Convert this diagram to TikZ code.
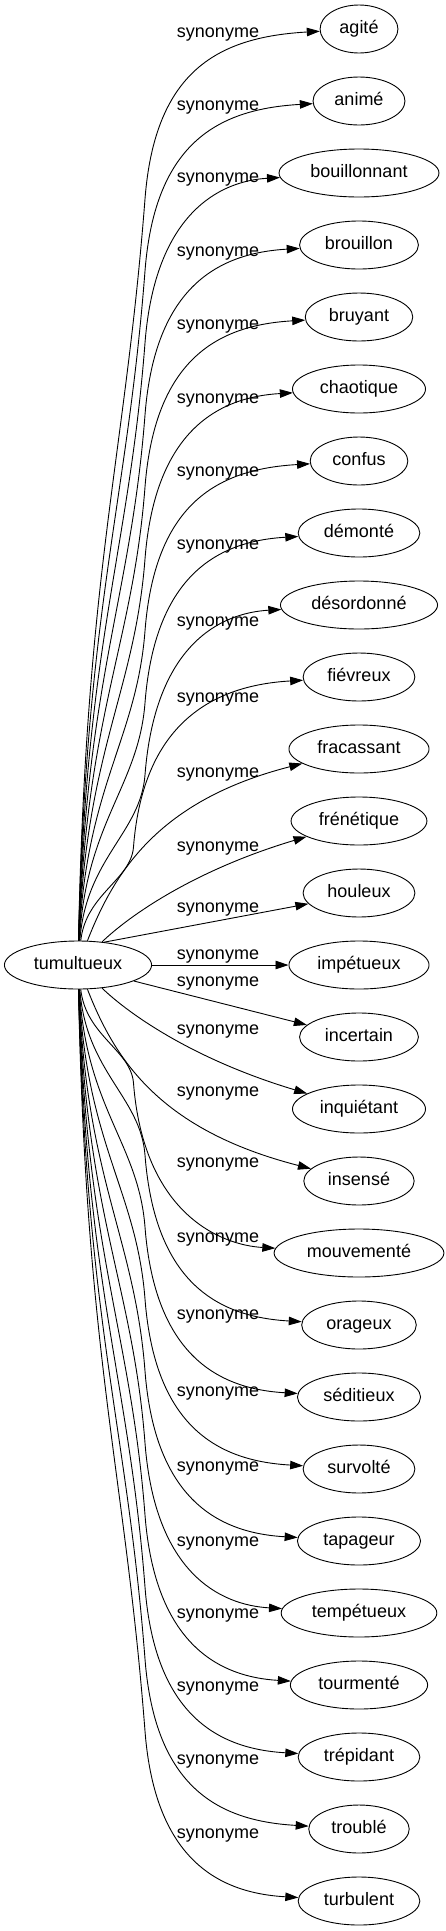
\documentclass[tikz,border=0pt]{standalone}
\usepackage{fontspec}
\setmainfont{Liberation Sans}
\usetikzlibrary{arrows.meta, calc, shapes.geometric}

\begin{document}
\begin{tikzpicture}[x=1pt, y=-1pt, line width=0.9pt,
    word/.style={draw, ellipse, font=\fontsize{18}{20}\selectfont, inner xsep=8pt, inner ysep=2pt,
        minimum height=48pt, text height=13pt, text depth=4pt},
    rel/.style={font=\fontsize{18}{20}\selectfont, inner sep=0pt, text height=13pt, text depth=4pt},
    syn/.style={-{Triangle[length=13pt, width=8.5pt]}}]
    \useasboundingbox (0,0) rectangle (446,1931);

    % Source word
    \node[word] (t) at (78,965) {tumultueux};

    % Synonyms and edge labels
    \foreach \w/\ly [count=\i from 0] in {agité/33, animé/106, bouillonnant/178, brouillon/252,
        bruyant/325, chaotique/399, confus/472, démonté/545, désordonné/622, fiévreux/698,
        fracassant/773, frénétique/847, houleux/908, impétueux/955, incertain/982,
        inquiétant/1030, insensé/1092, mouvementé/1163, orageux/1238, séditieux/1315,
        survolté/1392, tapageur/1467, tempétueux/1542, tourmenté/1614, trépidant/1687,
        troublé/1760, turbulent/1834}
    {
        \node[word] (w\i) at (359,29+72*\i) {\w};
        \node[rel] (l\i) at (218,\ly) {synonyme};
    }

    % Far edges (above and below, mirrored)
    \foreach \i in {0,1,2,3,4,5,6,7,8,9,17,18,19,20,21,22,23,24,25,26} {
        \pgfmathsetmacro{\sg}{\i<13 ? 1 : -1}
        \pgfmathsetmacro{\yu}{\i<13 ? 29+72*\i : 1901-72*\i}
        \pgfmathsetmacro{\dd}{771-\yu}
        \pgfmathsetmacro{\kx}{min(145,110+0.25*\dd)}
        \pgfmathsetmacro{\ka}{965+\sg*(\yu+170-965)}
        \pgfmathsetmacro{\ca}{965+\sg*(941-0.5*\dd-965)}
        \pgfmathsetmacro{\cb}{965+\sg*(\yu+170+0.35*\dd-965)}
        \pgfmathsetmacro{\cbx}{\kx-0.027*\dd}
        \pgfmathsetmacro{\cc}{965+\sg*(\yu+40-965)}
        \pgfmathsetmacro{\ccx}{\kx+10}
        \pgfmathsetmacro{\cd}{965+\sg*(\yu+8-965)}
        \draw[syn] (t) .. controls (86,\ca) and (\cbx,\cb) .. (\kx,\ka)
            .. controls (\ccx,\cc) and (220,\cd) .. (w\i);
    }

    % Near edges
    \draw[syn] (t) .. controls (115,870) and (160,800) .. (w10);
    \draw[syn] (t) .. controls (130,915) and (195,870) .. (w11);
    \draw[syn] (t.41) -- (w12.192);
    \draw[syn] (t) -- (w13);
    \draw[syn] (t.-16) -- (w14.167);
    \draw[syn] (t) .. controls (130,1015) and (195,1060) .. (w15);
    \draw[syn] (t) .. controls (115,1060) and (160,1130) .. (w16);
\end{tikzpicture}
\end{document}
